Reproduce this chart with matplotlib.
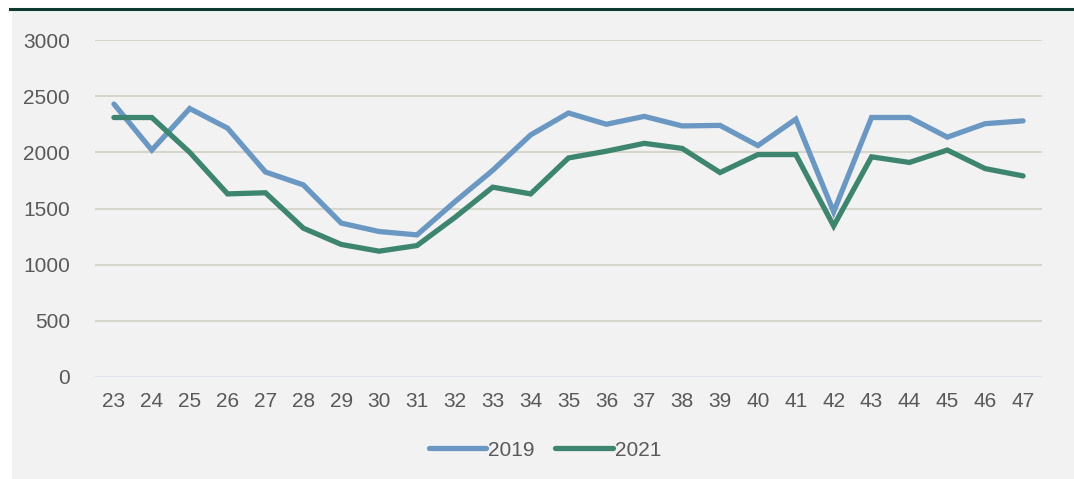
import matplotlib
matplotlib.use('Agg')
from matplotlib import pyplot as plt
from matplotlib.patches import Rectangle
from matplotlib.lines import Line2D

# Weeks and values
weeks = [str(w) for w in range(23, 48)]
values_2019 = [2430, 2020, 2390, 2215, 1825, 1710, 1370, 1295, 1265, 1560,
               1840, 2155, 2350, 2250, 2320, 2235, 2240, 2060, 2295, 1470,
               2310, 2310, 2135, 2255, 2280]
values_2021 = [2310, 2310, 2000, 1630, 1640, 1325, 1180, 1120, 1170, 1420,
               1690, 1630, 1950, 2010, 2080, 2035, 1820, 1980, 1980, 1345,
               1960, 1910, 2020, 1855, 1790]
y_ticks = [0, 500, 1000, 1500, 2000, 2500, 3000]

text_color = '#595959'
plt.rcParams['font.family'] = ['Liberation Sans', 'DejaVu Sans']

fig = plt.figure(figsize=(10.74, 4.79), dpi=100)
fig.patch.set_facecolor('white')

# Gray panel and dark top line
W, H = 1074, 479
fig.patches.append(Rectangle((12 / W, 0), 1 - 12 / W, (H - 10) / H,
                             transform=fig.transFigure, facecolor='#f2f2f2',
                             edgecolor='none', zorder=-5))
fig.lines.append(Line2D([10 / W, 1], [(H - 9) / H, (H - 9) / H],
                        transform=fig.transFigure, color='#0c3b2e', lw=2.2,
                        zorder=-4))

ax = fig.add_axes([95 / W, (H - 377) / H, (1042 - 95) / W, (377 - 40) / H])
ax.set_facecolor('none')

x = [i + 0.5 for i in range(len(weeks))]
ax.plot(x, values_2019, color='#6b98c3', lw=3.8, solid_capstyle='round',
        solid_joinstyle='miter', label='2019', zorder=3)
ax.plot(x, values_2021, color='#3e8570', lw=3.8, solid_capstyle='round',
        solid_joinstyle='miter', label='2021', zorder=3)

ax.set_xlim(0, len(weeks))
ax.set_ylim(0, 3000)
ax.set_xticks(x)
ax.set_xticklabels(weeks)
ax.set_yticks(y_ticks)

for t in y_ticks[1:]:
    ax.axhline(t, color='#d6d6cc', lw=1.5, zorder=1)
ax.axhline(0, color='#dfe4ea', lw=1.5, zorder=1)

for s in ax.spines.values():
    s.set_visible(False)
ax.tick_params(axis='both', length=0, labelsize=15, colors=text_color)
ax.tick_params(axis='x', pad=11)
ax.tick_params(axis='y', pad=18)

leg = fig.legend(loc='center', bbox_to_anchor=(545 / W, (H - 450) / H), ncol=2,
                 frameon=False, fontsize=15, handlelength=2.75,
                 handletextpad=0.1, columnspacing=1.0)
for text in leg.get_texts():
    text.set_color(text_color)

plt.savefig('out.png', dpi=100, facecolor=fig.get_facecolor())
